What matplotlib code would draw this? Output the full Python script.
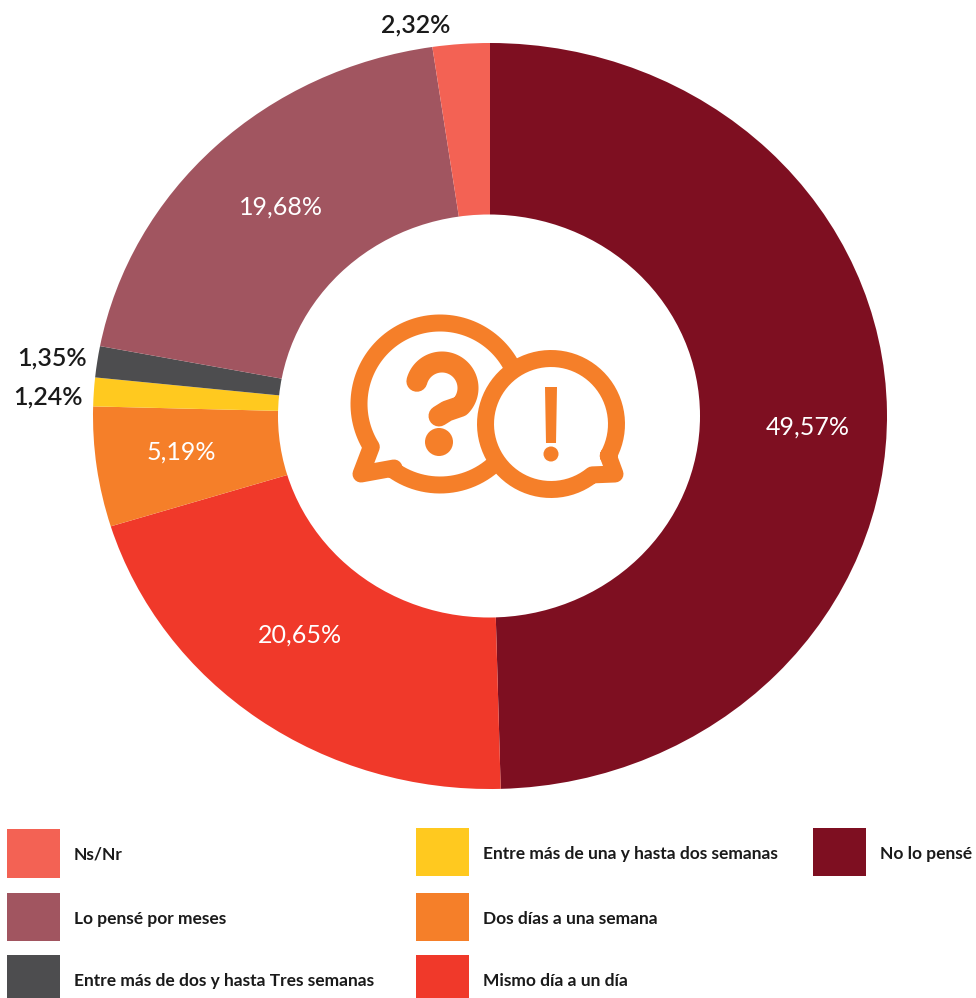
import numpy as np
import matplotlib
matplotlib.use("Agg")
import matplotlib.pyplot as plt
from matplotlib.patches import Circle, Ellipse, PathPatch, Rectangle, Polygon
from matplotlib.path import Path

plt.rcParams['font.family'] = ['Lato', 'DejaVu Sans']

# Data, clockwise from 12 o'clock ----
categories = ["No lo pensé", "Mismo día a un día", "Dos días a una semana",
              "Entre más de una y hasta dos semanas",
              "Entre más de dos y hasta Tres semanas",
              "Lo pensé por meses", "Ns/Nr"]
values = [49.57, 20.65, 5.19, 1.24, 1.35, 19.68, 2.32]
labels = ["49,57%", "20,65%", "5,19%", "1,24%", "1,35%", "19,68%", "2,32%"]
colors = ["#7E0F21", "#F0392A", "#F57F29", "#FFC91F", "#4D4D4F", "#A15560", "#F36254"]

W, H = 976, 998
ORANGE = "#F57F29"


def arc(cx, cy, r, a0, a1):
    """Points along a circle in pixel coords (y down), angles in degrees"""
    t = np.radians(np.linspace(a0, a1, 80))
    return np.column_stack([cx + r * np.cos(t), cy - r * np.sin(t)])


def stroke(ax, pts, lw=17, close=False):
    """Round orange outline through pixel points, lw in pixels"""
    if close:
        pts = np.vstack([pts, pts[0]])
    ax.add_patch(PathPatch(Path(pts), fill=False, edgecolor=ORANGE, lw=lw * 0.72,
                           joinstyle='round', capstyle='round'))


def draw_icon(ax):
    # big bubble
    big = np.vstack([arc(440, 404, 81, 28, 212), [[361, 474], [394, 468]],
                     arc(440, 404, 81, 234, 312)])
    stroke(ax, big)
    # small bubble
    small = np.vstack([arc(551, 424, 65.5, -29, 309), [[615, 474]]])
    stroke(ax, small, close=True)
    # question mark
    hook = np.vstack([arc(442, 388, 26, 165, -45), [[447, 411], [439, 416]]])
    stroke(ax, hook, lw=21)
    ax.add_patch(Circle((439, 442), 14, color=ORANGE, lw=0))
    # exclamation mark
    ax.add_patch(Polygon([[545, 387], [557, 387], [556, 443], [546, 443]], color=ORANGE, lw=0))
    ax.add_patch(Circle((551, 454), 7.5, color=ORANGE, lw=0))


fig = plt.figure(figsize=(W / 100, H / 100), dpi=100, facecolor='white')

# pie is stretched in the source: wider than tall
left, right, top, bottom = 93, 887, 43, 789
ax_pie = fig.add_axes([left / W, 1 - bottom / H, (right - left) / W, (bottom - top) / H])
ax_pie.pie(values, colors=colors, startangle=90, counterclock=False, radius=1,
           wedgeprops=dict(width=0.55, linewidth=0))
ax_pie.set_aspect('auto')
ax_pie.set_xlim(-1, 1)
ax_pie.set_ylim(-1, 1)
ax_pie.axis('off')

# overlay in pixel coords for hole, labels, legend and icon
ax = fig.add_axes([0, 0, 1, 1])
ax.set_xlim(0, W)
ax.set_ylim(H, 0)
ax.axis('off')
ax.patch.set_alpha(0)

# hole is less stretched than the ring
ax.add_patch(Ellipse((489, 416), 422, 403, color='white', lw=0))

label_pos = [(808, 427), (300, 635), (181, 452), (48, 397), (52, 358), (281, 207), (416, 25)]
label_col = ["white", "white", "white", "#1A1A1A", "#1A1A1A", "white", "#1A1A1A"]
for txt, (x, y), c in zip(labels, label_pos, label_col):
    ax.text(x, y, txt, color=c, fontsize=18, ha='center', va='center',
            fontweight='semibold' if c != "white" else 'normal')

legend_pos = {"Ns/Nr": (7, 829, 49), "Lo pensé por meses": (7, 893, 48),
              "Entre más de dos y hasta Tres semanas": (7, 955, 48),
              "Entre más de una y hasta dos semanas": (416, 828, 48),
              "Dos días a una semana": (416, 893, 48),
              "Mismo día a un día": (416, 955, 48),
              "No lo pensé": (813, 828, 48)}
for name, col in zip(categories, colors):
    x, y, h = legend_pos[name]
    ax.add_patch(Rectangle((x, y), 53, h, color=col, lw=0))
    ax.text(x + 67, y + 26, name, color="#1A1A1A", fontsize=12.5,
            fontweight='bold', va='center', ha='left')

draw_icon(ax)

fig.savefig("out.png", dpi=100)
